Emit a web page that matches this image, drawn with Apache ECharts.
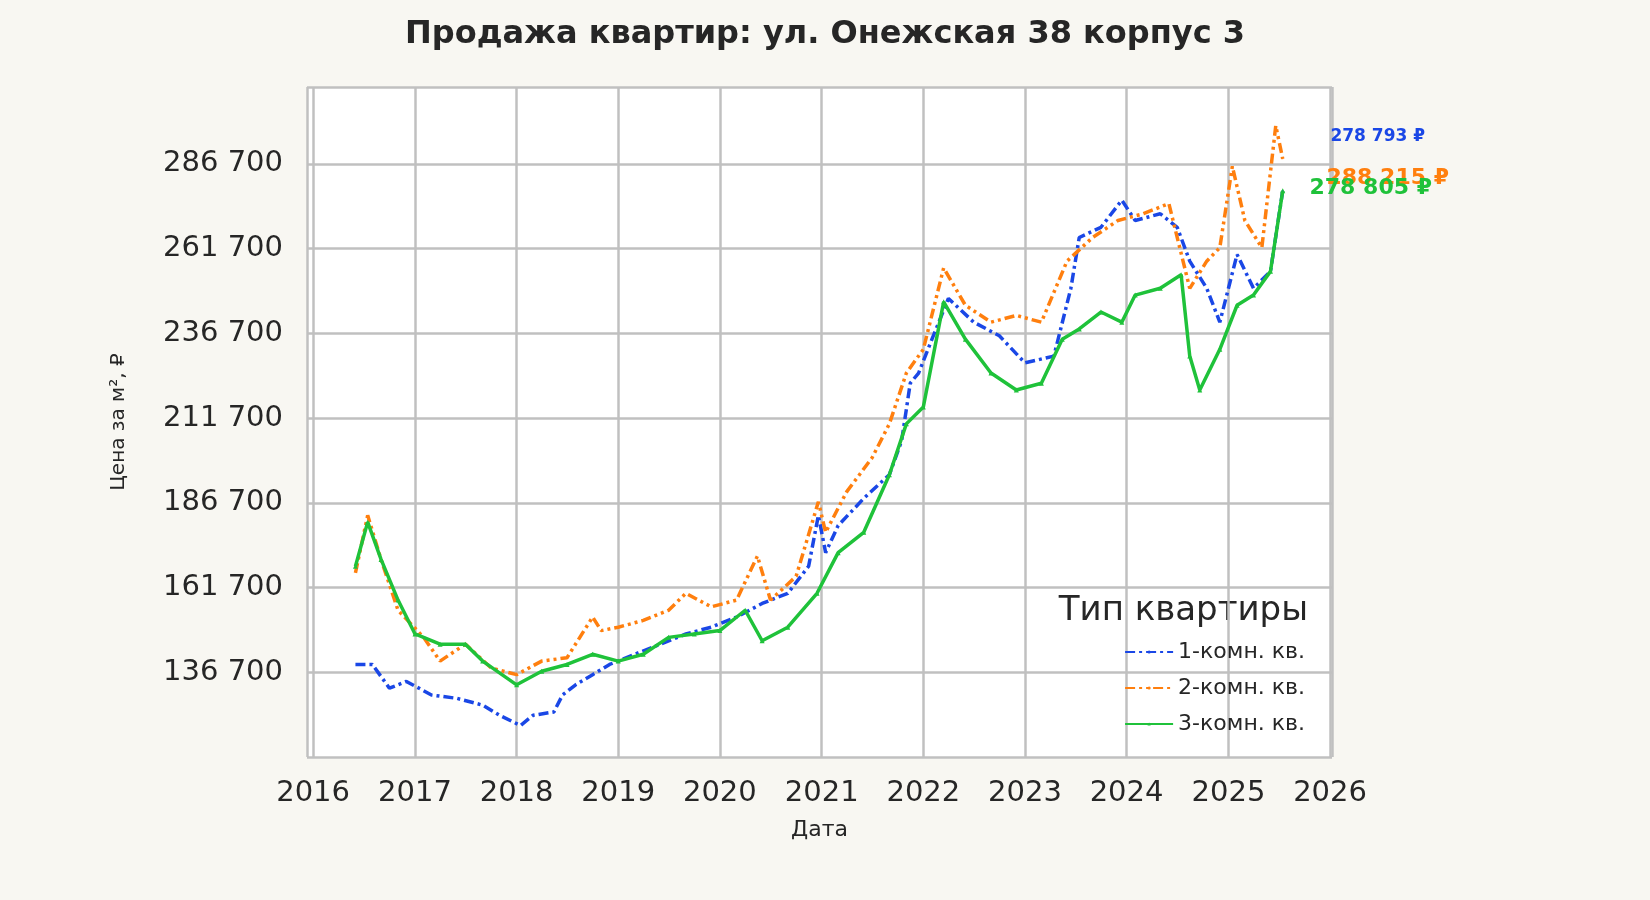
<!DOCTYPE html><html><head><meta charset="utf-8"><script src="https://cdn.jsdelivr.net/npm/echarts@6/dist/echarts.min.js"></script></head>
<body style="margin:0;background:#f8f7f2"><div id="c" style="width:1650px;height:900px"></div><script>
const room1 = [['2016-06-01',139000],['2016-08-01',139000],['2016-10-01',132000],['2016-12-01',134000],['2017-03-01',130000],['2017-06-01',129000],['2017-09-01',127000],['2017-11-01',124000],['2018-01-15',121000],['2018-03-01',124000],['2018-05-15',125000],['2018-06-15',130000],['2018-08-01',133000],['2018-10-01',136000],['2018-12-01',139000],['2019-03-01',142000],['2019-06-01',145000],['2019-09-01',148000],['2019-12-01',150000],['2020-03-01',153000],['2020-06-01',157000],['2020-09-01',160000],['2020-11-15',168000],['2020-12-20',183000],['2021-01-15',172000],['2021-03-01',180000],['2021-06-01',188000],['2021-09-01',195000],['2021-10-15',205000],['2021-11-15',222000],['2021-12-15',225000],['2022-02-01',235000],['2022-04-01',247000],['2022-07-01',240000],['2022-10-01',236000],['2023-01-01',228000],['2023-04-15',230000],['2023-06-15',250000],['2023-07-15',265000],['2023-10-01',268000],['2023-12-15',276000],['2024-02-01',270000],['2024-05-01',272000],['2024-07-01',268000],['2024-08-15',258000],['2024-10-15',250000],['2024-12-01',240000],['2025-02-01',260000],['2025-04-01',250000],['2025-06-01',255000],['2025-07-15',278793]];
const room2 = [['2016-06-01',166000],['2016-07-15',183000],['2016-09-01',170000],['2016-11-01',155000],['2017-02-01',147000],['2017-04-01',140000],['2017-07-01',145000],['2017-10-01',138000],['2018-01-01',136000],['2018-04-01',140000],['2018-07-01',141000],['2018-10-01',153000],['2018-11-01',149000],['2019-01-01',150000],['2019-04-01',152000],['2019-07-01',155000],['2019-09-01',160000],['2019-12-01',156000],['2020-03-01',158000],['2020-05-15',171000],['2020-07-01',158000],['2020-10-01',165000],['2020-12-20',187000],['2021-01-15',178000],['2021-04-01',190000],['2021-07-01',200000],['2021-09-01',210000],['2021-11-01',225000],['2022-01-01',232000],['2022-03-15',256000],['2022-06-01',245000],['2022-09-01',240000],['2022-12-01',242000],['2023-03-01',240000],['2023-06-01',258000],['2023-09-01',265000],['2023-12-01',270000],['2024-03-01',272000],['2024-06-01',275000],['2024-08-15',250000],['2024-10-15',258000],['2024-12-01',262000],['2025-01-15',286000],['2025-03-01',270000],['2025-05-01',262000],['2025-06-20',298000],['2025-07-15',288215]];
const room3 = [['2016-06-01',168000],['2016-07-15',181000],['2016-09-01',170000],['2016-11-01',158000],['2017-01-01',148000],['2017-04-01',145000],['2017-07-01',145000],['2017-09-01',140000],['2018-01-01',133000],['2018-04-01',137000],['2018-07-01',139000],['2018-10-01',142000],['2019-01-01',140000],['2019-04-01',142000],['2019-07-01',147000],['2019-10-01',148000],['2020-01-01',149000],['2020-04-01',155000],['2020-06-01',146000],['2020-09-01',150000],['2020-12-15',160000],['2021-03-01',172000],['2021-06-01',178000],['2021-09-01',195000],['2021-11-01',210000],['2022-01-01',215000],['2022-03-15',246000],['2022-06-01',235000],['2022-09-01',225000],['2022-12-01',220000],['2023-03-01',222000],['2023-05-15',235000],['2023-07-15',238000],['2023-10-01',243000],['2023-12-15',240000],['2024-02-01',248000],['2024-05-01',250000],['2024-07-15',254000],['2024-08-15',230000],['2024-09-20',220000],['2024-12-01',232000],['2025-02-01',245000],['2025-04-01',248000],['2025-06-01',255000],['2025-07-15',278805]];
const names = ['1-комн. кв.','2-комн. кв.','3-комн. кв.'];
const colors = ['#1a47e6','#ff7f0e','#1fc23a'];
const lastLabels = ['278 793 ₽','288 215 ₽','278 805 ₽'];
const offsets = [[95,-54],[105,19],[88,-2]];
const fmt = v => String(v).replace(/\B(?=(\d{3})+(?!\d))/g,' ');
const data=[room1,room2,room3];
const types=['dashed','dashed','solid'];
const dashes=[[10,4,3,4],[10,4,3,4,3,4],null];
const chart=echarts.init(document.getElementById('c'));
chart.setOption({
 backgroundColor:'#f8f7f2',
 title:{text:'Продажа квартир: ул. Онежская 38 корпус 3',left:'center',top:14,textStyle:{fontFamily:'DejaVu Sans',fontSize:32,fontWeight:'bold',color:'#262626'}},
 grid:{left:307,right:318,top:87,bottom:143,show:true,backgroundColor:'#fff',borderWidth:0},
 xAxis:{type:'time',min:'2015-12-10',max:'2026-01-08',name:'Дата',nameLocation:'middle',nameGap:62,nameTextStyle:{fontFamily:'DejaVu Sans',fontSize:22,color:'#262626'},
  axisLine:{show:false},axisTick:{show:false},splitNumber:10,
  axisLabel:{fontFamily:'DejaVu Sans',fontSize:29,color:'#262626',margin:22,formatter:v=>String(new Date(v).getFullYear())},
  splitLine:{show:true,lineStyle:{color:'#c0c0c0',width:2.5}}},
 yAxis:{type:'value',min:111700,max:309400,interval:25000,name:'Цена за м², ₽',nameLocation:'middle',nameGap:178,nameTextStyle:{fontFamily:'DejaVu Sans',fontSize:20,color:'#262626'},
  axisLine:{show:false},axisTick:{show:false},
  axisLabel:{fontFamily:'DejaVu Sans',fontSize:29,color:'#262626',margin:24,showMinLabel:false,showMaxLabel:false,formatter:fmt},
  splitLine:{lineStyle:{color:'#c0c0c0',width:2.5}}},
 legend:{orient:'vertical',right:340,bottom:160,itemWidth:48,itemHeight:4,itemGap:14,textStyle:{fontFamily:'DejaVu Sans',fontSize:22,color:'#262626'},
  data:names},
 graphic:[{type:'text',right:342,bottom:272,style:{text:'Тип квартиры',font:'34px DejaVu Sans',fill:'#262626'}}],
 series:data.map((d,i)=>({name:names[i],type:'line',data:d,color:colors[i],symbol:i==2?'triangle':'none',symbolSize:5,
  lineStyle:Object.assign({width:3.5,type:types[i]}, dashes[i]?{type:dashes[i]}:{}),
  markPoint:{symbol:'circle',symbolSize:1,data:[{coord:d[d.length-1]}],
   label:{show:true,formatter:lastLabels[i],offset:offsets[i],color:colors[i],fontFamily:'DejaVu Sans',fontWeight:'bold',fontSize:i==0?17:22}}}))
});
</script></body></html>
